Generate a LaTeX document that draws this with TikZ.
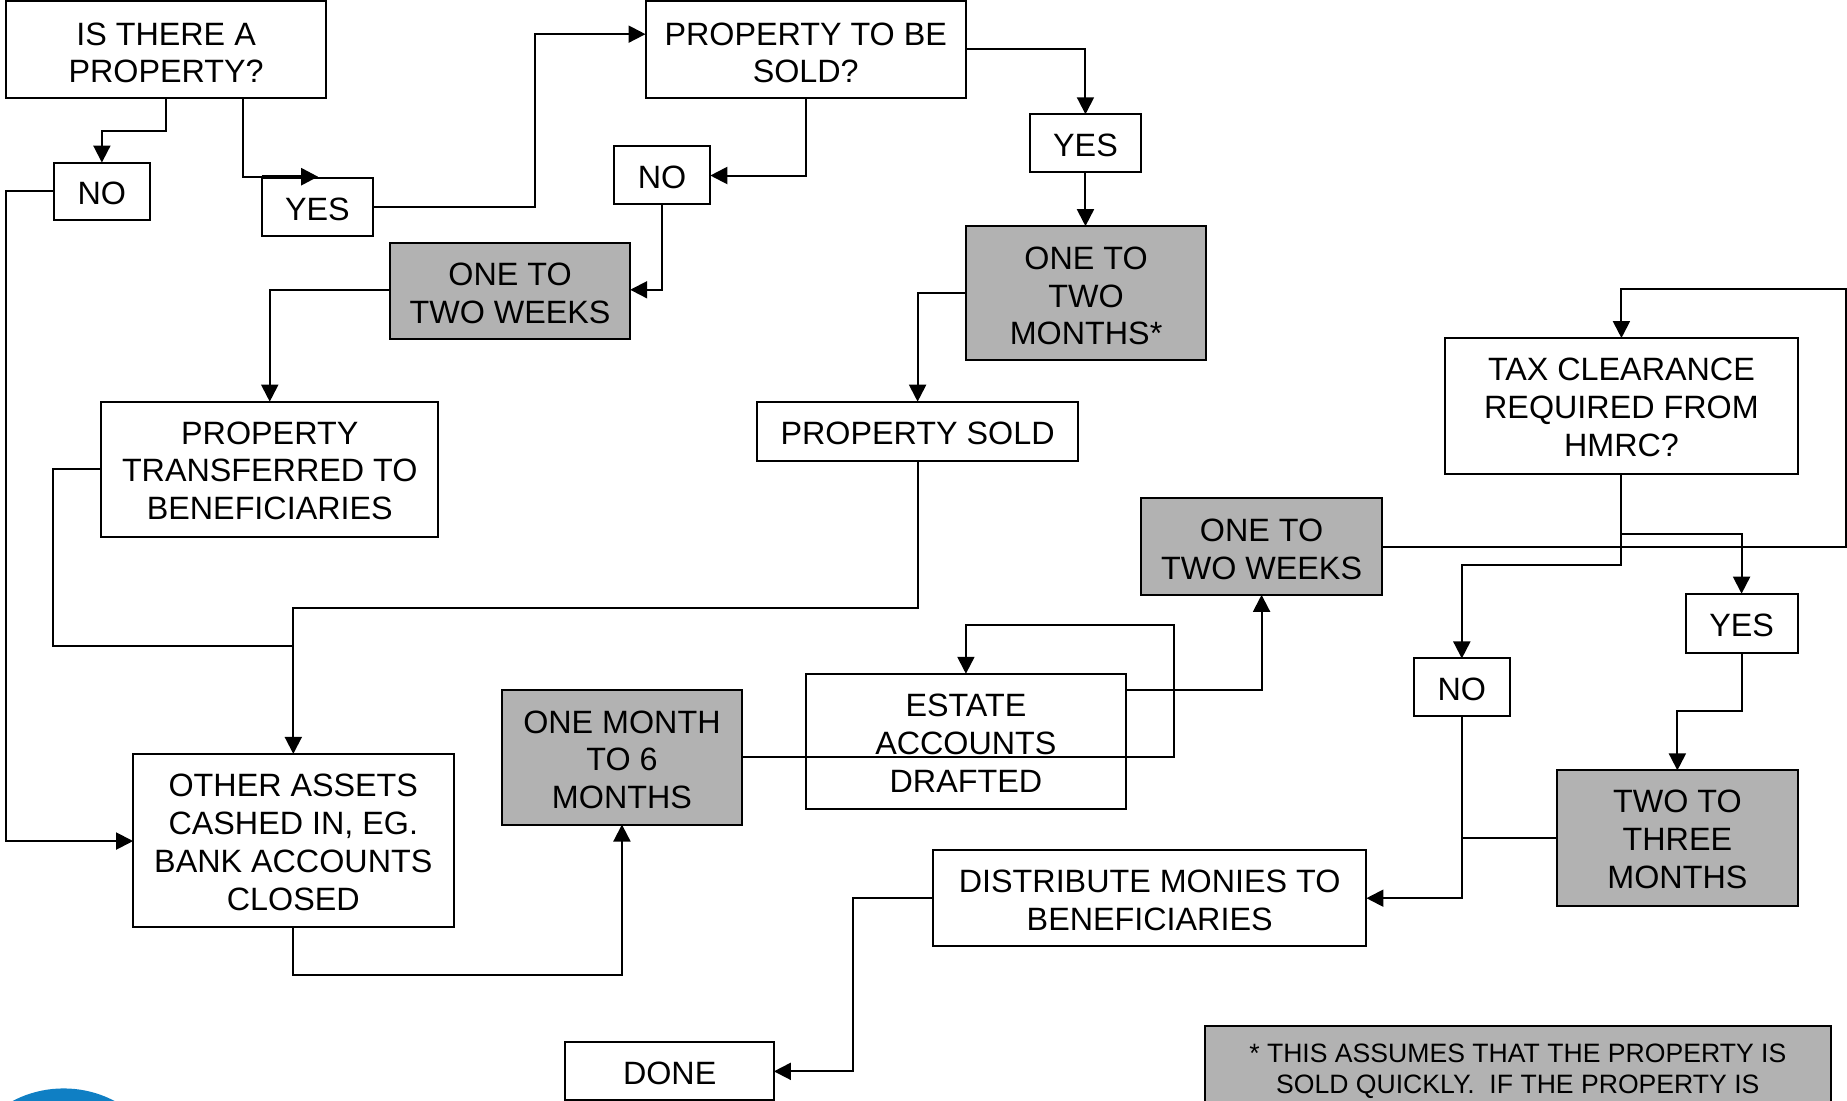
\documentclass[tikz,border=0pt]{standalone}
\usepackage{fontspec}
\setmainfont{Liberation Sans}
\usetikzlibrary{arrows.meta}
\definecolor{boxgrey}{HTML}{B2B2B2}
\definecolor{logoblue}{HTML}{0F7FC4}
\tikzset{
  wh/.style 2 args={minimum width=#1*1.178pt,minimum height=#2*1.178pt},
  topgap/.style={execute at begin node={\rule{0pt}{#1}}},
  plain/.style={draw=black,line width=2pt,fill=white,outer sep=0pt,inner sep=0pt,align=center,
    font=\fontsize{32.3pt}{37.8pt}\selectfont,topgap=27pt},
  shaded/.style={plain,fill=boxgrey},
  link/.style={draw=black,line width=2pt,line join=miter},
  arrowlink/.style={link,-{Triangle[width=17pt,length=17pt]}},
}
\begin{document}
\begin{tikzpicture}[x=1.178pt,y=-1.178pt]
\useasboundingbox (0,0) rectangle (1568,934.6);
\begin{scope}
\clip (0,0) rectangle (1568,934.6);
\fill[logoblue] (54,1017) circle[radius=93];
\node[draw=black,line width=2pt,fill=boxgrey,outer sep=0pt,wh={531}{130}] (note) at (1288.5,936) {};
\node[anchor=north,align=center,inner sep=0pt,font=\fontsize{26.6pt}{30.7pt}\selectfont] (notetext) at (1288.5,886) {* THIS ASSUMES THAT THE PROPERTY IS\\SOLD QUICKLY.\ \ IF THE PROPERTY IS};
\end{scope}
\node[plain,topgap=67pt,wh={272}{82}] (a) at (141,42) {IS THERE A\\PROPERTY?};
\node[plain,wh={81}{49}] (no1) at (86.5,162.5) {NO};
\node[plain,wh={95}{49}] (yes1) at (269.5,175.5) {YES};
\node[plain,topgap=67pt,wh={272}{82}] (prop) at (684,42) {PROPERTY TO BE\\SOLD?};
\node[plain,wh={82}{49}] (no2) at (562,148.5) {NO};
\node[plain,wh={95}{49}] (yes2) at (921.5,121.5) {YES};
\node[shaded,topgap=65.5pt,wh={204}{82}] (wk1) at (433,247) {ONE TO\\TWO WEEKS};
\node[shaded,topgap=103.5pt,wh={204}{114}] (mo) at (922,249) {ONE TO\\TWO\\MONTHS*};
\node[plain,topgap=101pt,wh={286}{115}] (trans) at (229,398.5) {PROPERTY\\TRANSFERRED TO\\BENEFICIARIES};
\node[plain,wh={272}{50}] (sold) at (779,366) {PROPERTY SOLD};
\node[plain,topgap=101pt,wh={299}{115}] (tax) at (1376.5,344.5) {TAX CLEARANCE\\REQUIRED FROM\\HMRC?};
\node[shaded,topgap=65.5pt,wh={204}{82}] (wk2) at (1071,464) {ONE TO\\TWO WEEKS};
\node[plain,wh={95}{50}] (yes3) at (1478.5,529) {YES};
\node[plain,wh={82}{49}] (no3) at (1241,583.5) {NO};
\node[shaded,topgap=101pt,wh={204}{115}] (mo3) at (1424,711.5) {TWO TO\\THREE\\MONTHS};
\node[plain,topgap=102pt,wh={272}{115}] (est) at (820,629.5) {ESTATE\\ACCOUNTS\\DRAFTED};
\node[shaded,topgap=103pt,wh={204}{114}] (m6) at (528,643) {ONE MONTH\\TO 6\\MONTHS};
\node[plain,topgap=140pt,wh={272}{147}] (oth) at (249,713.5) {OTHER ASSETS\\CASHED IN, EG.\\BANK ACCOUNTS\\CLOSED};
\node[plain,topgap=65.5pt,wh={368}{81}] (dist) at (976,762.5) {DISTRIBUTE MONIES TO\\BENEFICIARIES};
\node[plain,wh={177}{49}] (done) at (568.5,909.5) {DONE};

\draw[arrowlink] (a.south) -- (141,111) -- (86.5,111) -- (no1.north);
\draw[link] (a.south -| 206,0) -- (206,150) -- (222,150);
\draw[arrowlink,line width=3pt] (222,150) -- (270,150);
\draw[arrowlink] (no1.west |- 0,162) -- (5,162) -- (5,714) -- (oth.west |- 0,714);
\draw[arrowlink] (yes1.east) -- (454,175.5) -- (454,29) -- (prop.west |- 0,29);
\draw[arrowlink] (prop.south) -- (684,149) -- (no2.east |- 0,149);
\draw[arrowlink] (no2.south) -- (562,246) -- (wk1.east |- 0,246);
\draw[arrowlink] (wk1.west |- 0,246) -- (229,246) -- (trans.north);
\draw[arrowlink] (prop.east) -- (921.5,42) -- (yes2.north);
\draw[arrowlink] (yes2.south) -- (mo.north -| yes2.south);
\draw[arrowlink] (mo.west) -- (779,249) -- (sold.north);
\draw[link] (trans.west) -- (45,398.5) -- (45,548) -- (249,548);
\draw[arrowlink] (sold.south) -- (779,516) -- (249,516) -- (oth.north);
\draw[arrowlink] (oth.south) -- (249,828) -- (528,828) -- (m6.south);
\draw[arrowlink] (m6.east) -- (997,643) -- (997,531) -- (820,531) -- (est.north);
\draw[arrowlink] (est.east |- 0,586) -- (1071,586) -- (wk2.south);
\draw[arrowlink] (wk2.east) -- (1567,464) -- (1567,245) -- (1376.5,245) -- (tax.north);
\draw[arrowlink] (tax.south) -- (1376.5,480) -- (1241,480) -- (no3.north);
\draw[arrowlink] (1376.5,453) -- (1478.5,453) -- (yes3.north);
\draw[arrowlink] (yes3.south) -- (1478.5,604) -- (1424,604) -- (mo3.north);
\draw[arrowlink] (no3.south) -- (1241,762.5) -- (dist.east);
\draw[link] (mo3.west) -- (1241,711.5);
\draw[arrowlink] (dist.west) -- (724,762.5) -- (724,909.5) -- (done.east);
\end{tikzpicture}
\end{document}
